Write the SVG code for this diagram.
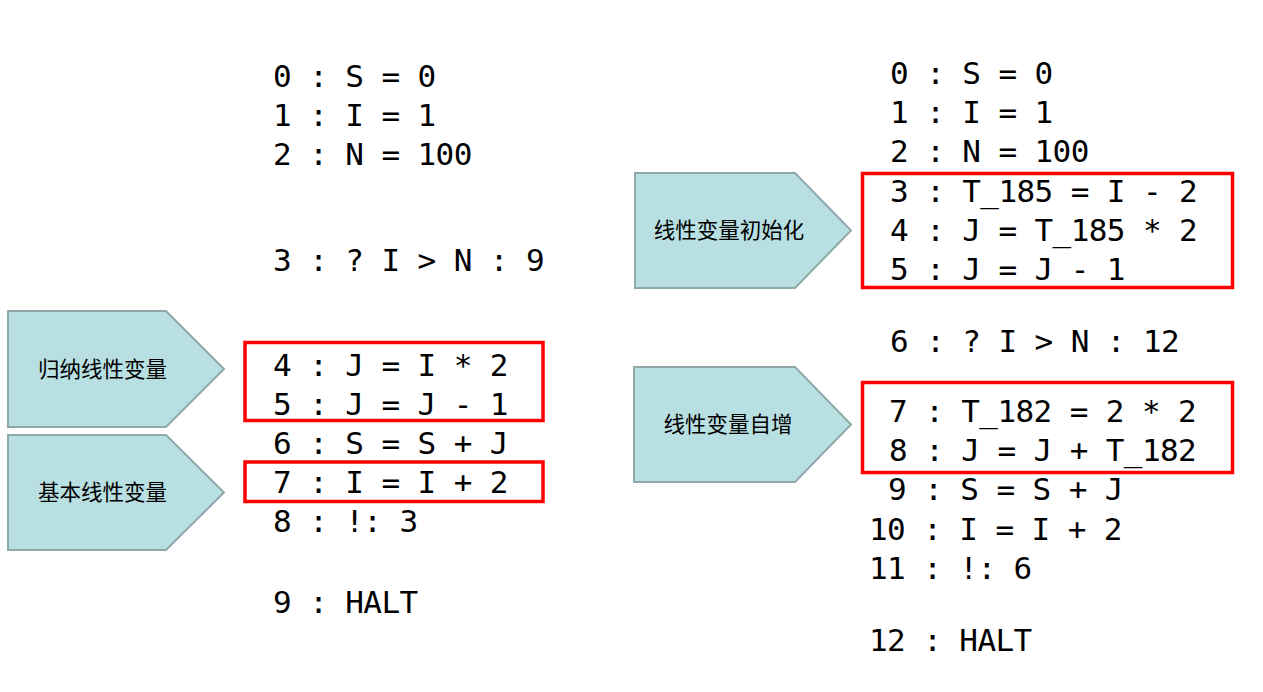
<svg xmlns="http://www.w3.org/2000/svg" width="1263" height="692" viewBox="0 0 1263 692">
<style>
.code{font-family:"DejaVu Sans Mono","Liberation Mono",monospace;font-size:31px;letter-spacing:-0.6px;fill:#000}
.lbl{font-family:"Noto Sans CJK SC","Noto Sans CJK TC",sans-serif;font-size:21.5px;fill:#000;text-anchor:middle}
.arrow{fill:#B8DFE2;stroke:#8FA9AB;stroke-width:2}
.box{fill:none;stroke:#FF0000;stroke-width:3.5}
</style>
<rect width="1263" height="692" fill="#FFFFFF"/>
<g id="label-induction">
<polygon class="arrow" points="8,311 166,311 224,369 166,427 8,427"/>
<text class="lbl" x="102.5" y="376.5">归纳线性变量</text>
</g>
<g id="label-basic">
<polygon class="arrow" points="8,435 166,435 224,492.5 166,550 8,550"/>
<text class="lbl" x="102.5" y="500">基本线性变量</text>
</g>
<g id="label-init">
<polygon class="arrow" points="635,173 795,173 851,230.5 795,288 635,288"/>
<text class="lbl" x="729" y="238">线性变量初始化</text>
</g>
<g id="label-incr">
<polygon class="arrow" points="634,367 795,367 851,424.5 795,482 634,482"/>
<text class="lbl" x="728" y="432">线性变量自增</text>
</g>
<g id="left-code">
<text class="code" x="273" y="86.5">0 : S = 0</text>
<text class="code" x="273" y="125.5">1 : I = 1</text>
<text class="code" x="273" y="164.5">2 : N = 100</text>
<text class="code" x="273" y="270.5">3 : ? I &gt; N : 9</text>
<text class="code" x="273" y="375.5">4 : J = I * 2</text>
<text class="code" x="273" y="414.5">5 : J = J - 1</text>
<text class="code" x="273" y="453.5">6 : S = S + J</text>
<text class="code" x="273" y="493">7 : I = I + 2</text>
<text class="code" x="273" y="531.5">8 : !: 3</text>
<text class="code" x="273" y="612.5">9 : HALT</text>
</g>
<g id="right-code">
<text class="code" x="890" y="83.5">0 : S = 0</text>
<text class="code" x="890" y="122.5">1 : I = 1</text>
<text class="code" x="890" y="161.5">2 : N = 100</text>
<text class="code" x="890" y="201.5">3 : T_185 = I - 2</text>
<text class="code" x="890" y="240.5">4 : J = T_185 * 2</text>
<text class="code" x="890" y="279.5">5 : J = J - 1</text>
<text class="code" x="890" y="351.5">6 : ? I &gt; N : 12</text>
<text class="code" x="889" y="421.5">7 : T_182 = 2 * 2</text>
<text class="code" x="889" y="460.5">8 : J = J + T_182</text>
<text class="code" x="888" y="499.5">9 : S = S + J</text>
<text class="code" x="869" y="539.5">10 : I = I + 2</text>
<text class="code" x="869" y="578.5">11 : !: 6</text>
<text class="code" x="869" y="650.5">12 : HALT</text>
</g>
<g id="highlights">
<rect class="box" x="245" y="342.5" width="298" height="78"/>
<rect class="box" x="245" y="462" width="298" height="39.5"/>
<rect class="box" x="862.5" y="173.5" width="370" height="114"/>
<rect class="box" x="862.5" y="382.5" width="370" height="90"/>
</g>
</svg>
